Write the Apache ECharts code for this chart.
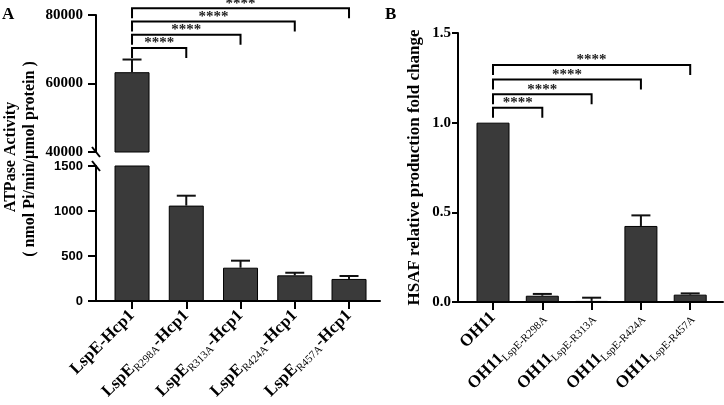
<!DOCTYPE html>
<html>
<head>
<meta charset="utf-8">
<script src="https://cdn.jsdelivr.net/npm/echarts@6/dist/echarts.min.js"></script>
<style>html,body{margin:0;padding:0;background:#fff}#c{width:724px;height:405px}</style>
</head>
<body>
<div id="c"></div>
<script>
// ---- Panel A data ----
const catsA = ['LspE-Hcp1', 'LspE_{R298A}-Hcp1', 'LspE_{R313A}-Hcp1', 'LspE_{R424A}-Hcp1', 'LspE_{R457A}-Hcp1'];
const valuesA = [63300, 1060, 370, 285, 245];
const errTopA = [67000, 1170, 448, 314, 278];
const ticksAUpper = [40000, 60000, 80000];
const ticksALower = [0, 500, 1000, 1500];
const bracketToA = [1, 2, 3, 4];
const bracketLevelA = [70400, 74200, 78100, 82000];
const sigA = ['****', '****', '****', '****'];
// ---- Panel B data ----
const catsB = ['OH11', 'OH11_{LspE-R298A}', 'OH11_{LspE-R313A}', 'OH11_{LspE-R424A}', 'OH11_{LspE-R457A}'];
const valuesB = [1.0, 0.035, 0.006, 0.424, 0.041];
const errTopB = [1.0, 0.045, 0.024, 0.483, 0.048];
const ticksB = [0.0, 0.5, 1.0, 1.5];
const bracketToB = [1, 2, 3, 4];
const bracketLevelB = [1.083, 1.158, 1.241, 1.321];
const sigB = ['****', '****', '****', '****'];

const SERIF = '"Liberation Serif","Times New Roman",serif';
const SANS = '"Liberation Sans",Arial,sans-serif';
const BAR = '#3a3a3a';

function richLabel(s) {
  return '{b|' + s.replace(/_\{([^}]*)\}/g, '}{s|$1}{b|') + '}';
}
const richStyle = {
  b: {fontFamily: SERIF, fontWeight: 'bold', fontSize: 17, color: '#000'},
  s: {fontFamily: SERIF, fontWeight: 'normal', fontSize: 11, color: '#000', padding: [9, 0, 0, 0]}
};
const idx = catsA.map((c, i) => i);

function errRender(params, api) {
  const x = api.value(0), v = api.value(1), t = api.value(2);
  const p0 = api.coord([x, v]), p1 = api.coord([x, t]);
  const half = 9.5;
  return {type: 'group', children: [
    {type: 'line', shape: {x1: p0[0], y1: p0[1], x2: p1[0], y2: p1[1]}, style: {stroke: '#111', lineWidth: 2}},
    {type: 'line', shape: {x1: p1[0] - half, y1: p1[1], x2: p1[0] + half, y2: p1[1]}, style: {stroke: '#111', lineWidth: 2}}
  ]};
}
function makeBracketRender(sig) {
  return function (params, api) {
    const a = api.coord([api.value(0), api.value(2)]);
    const b = api.coord([api.value(1), api.value(2)]);
    const drop = 10;
    return {type: 'group', children: [
      {type: 'polyline', shape: {points: [[a[0], a[1] + drop], [a[0], a[1]], [b[0], b[1]], [b[0], b[1] + drop]]},
        style: {stroke: '#000', lineWidth: 2, fill: null}},
      {type: 'text', style: {text: sig[params.dataIndex], x: (a[0] + b[0]) / 2, y: a[1] + 3,
        align: 'center', verticalAlign: 'bottom', fontFamily: SERIF, fontWeight: 'bold', fontSize: 15, fill: '#222'}}
    ]};
  };
}

const yLine = {show: true, onZero: false, lineStyle: {color: '#000', width: 2}};
const yTick = {show: true, length: 8, lineStyle: {color: '#000', width: 2}};

const xCommonA = {type: 'value', min: -0.664, max: 4.571, splitLine: {show: false}};
const xCommonB = {type: 'value', min: -0.71, max: 4.665, splitLine: {show: false}};

const option = {
  animation: false,
  backgroundColor: '#fff',
  grid: [
    {left: 96, top: 15, width: 284, height: 137},
    {left: 96, top: 166, width: 284, height: 135},
    {left: 458, top: 33, width: 265, height: 269}
  ],
  xAxis: [
    Object.assign({}, xCommonA, {gridIndex: 0, show: false}),
    Object.assign({}, xCommonA, {gridIndex: 1,
      axisLine: {show: true, onZero: false, lineStyle: {color: '#000', width: 2}},
      axisTick: {show: true, length: 8, customValues: idx, lineStyle: {color: '#000', width: 2}},
      axisLabel: {customValues: idx, rotate: 45, margin: 12, formatter: v => richLabel(catsA[Math.round(v)]), rich: richStyle}
    }),
    Object.assign({}, xCommonB, {gridIndex: 2,
      axisLine: {show: true, onZero: false, lineStyle: {color: '#000', width: 2}},
      axisTick: {show: true, length: 8, customValues: idx, lineStyle: {color: '#000', width: 2}},
      axisLabel: {customValues: idx, rotate: 45, margin: 13, formatter: v => richLabel(catsB[Math.round(v)]), rich: richStyle}
    })
  ],
  yAxis: [
    {type: 'value', gridIndex: 0, min: ticksAUpper[0], max: ticksAUpper[2], interval: 20000, splitLine: {show: false},
      axisLine: yLine, axisTick: yTick,
      axisLabel: {margin: 13, fontFamily: SERIF, fontWeight: 'bold', fontSize: 15, color: '#000', formatter: v => String(v)}},
    {type: 'value', gridIndex: 1, min: ticksALower[0], max: ticksALower[3], interval: 500, splitLine: {show: false},
      axisLine: yLine, axisTick: yTick,
      axisLabel: {margin: 13, fontFamily: SANS, fontWeight: 'bold', fontSize: 13, color: '#000', formatter: v => String(v)}},
    {type: 'value', gridIndex: 2, min: ticksB[0], max: ticksB[3], interval: 0.5, splitLine: {show: false},
      axisLine: yLine, axisTick: {show: true, length: 6, lineStyle: {color: '#000', width: 2}},
      axisLabel: {margin: 7, fontFamily: SERIF, fontWeight: 'bold', fontSize: 15, color: '#000', formatter: v => v.toFixed(1)},
      name: 'HSAF relative production fold change', nameLocation: 'middle', nameGap: 35, nameRotate: 90,
      nameTextStyle: {fontFamily: SERIF, fontWeight: 'bold', fontSize: 17, color: '#000'}}
  ],
  series: [
    {type: 'bar', xAxisIndex: 0, yAxisIndex: 0, barWidth: 35, clip: true,
      itemStyle: {color: BAR, borderColor: '#000', borderWidth: 1},
      data: valuesA.map((v, i) => [i, v]).filter(d => d[1] > ticksAUpper[0])},
    {type: 'bar', xAxisIndex: 1, yAxisIndex: 1, barWidth: 35, clip: true,
      itemStyle: {color: BAR, borderColor: '#000', borderWidth: 1},
      data: valuesA.map((v, i) => [i, v])},
    {type: 'bar', xAxisIndex: 2, yAxisIndex: 2, barWidth: 33, clip: true,
      itemStyle: {color: BAR, borderColor: '#000', borderWidth: 1},
      data: valuesB.map((v, i) => [i, v])},
    {type: 'custom', xAxisIndex: 0, yAxisIndex: 0, clip: false, renderItem: errRender, z: 5,
      data: valuesA.map((v, i) => [i, v, errTopA[i]]).filter(d => d[1] > ticksAUpper[0])},
    {type: 'custom', xAxisIndex: 1, yAxisIndex: 1, clip: false, renderItem: errRender, z: 5,
      data: valuesA.map((v, i) => [i, v, errTopA[i]]).filter(d => d[1] <= ticksALower[3])},
    {type: 'custom', xAxisIndex: 2, yAxisIndex: 2, clip: false, renderItem: errRender, z: 5,
      data: valuesB.map((v, i) => [i, v, errTopB[i]]).filter(d => d[2] > d[1])},
    {type: 'custom', xAxisIndex: 0, yAxisIndex: 0, clip: false, renderItem: makeBracketRender(sigA), z: 5,
      data: bracketToA.map((t, i) => [0, t, bracketLevelA[i]])},
    {type: 'custom', xAxisIndex: 2, yAxisIndex: 2, clip: false, renderItem: makeBracketRender(sigB), z: 5,
      data: bracketToB.map((t, i) => [0, t, bracketLevelB[i]])}
  ],
  graphic: [
    {type: 'text', left: 2, top: 6, style: {text: 'A', fontFamily: SERIF, fontWeight: 'bold', fontSize: 17, fill: '#000'}},
    {type: 'text', left: 385, top: 6, style: {text: 'B', fontFamily: SERIF, fontWeight: 'bold', fontSize: 17, fill: '#000'}},
    {type: 'text', x: 11, y: 157, rotation: Math.PI / 2,
      style: {text: 'ATPase Activity', align: 'center', verticalAlign: 'middle', fontFamily: SERIF, fontWeight: 'bold', fontSize: 16, fill: '#000'}},
    {type: 'text', x: 30, y: 159, rotation: Math.PI / 2,
      style: {text: '( nmol Pi/min/\u03bcmol protein )', align: 'center', verticalAlign: 'middle', fontFamily: SERIF, fontWeight: 'bold', fontSize: 16, fill: '#000'}}
  ]
};

const chart = echarts.init(document.getElementById('c'), null, {renderer: 'canvas'});
chart.setOption(option);
// axis break marks at the ends of the two A segments
const pUp = chart.convertToPixel({gridIndex: 0}, [xCommonA.min, ticksAUpper[0]]);
const pLo = chart.convertToPixel({gridIndex: 1}, [xCommonA.min, ticksALower[3]]);
const brk = (p) => ({type: 'line', z: 10, shape: {x1: p[0] - 4, y1: p[1] - 5, x2: p[0] + 4, y2: p[1] + 5}, style: {stroke: '#000', lineWidth: 2}});
chart.setOption({graphic: option.graphic.concat([brk(pUp), brk(pLo)])});
</script>
</body>
</html>
